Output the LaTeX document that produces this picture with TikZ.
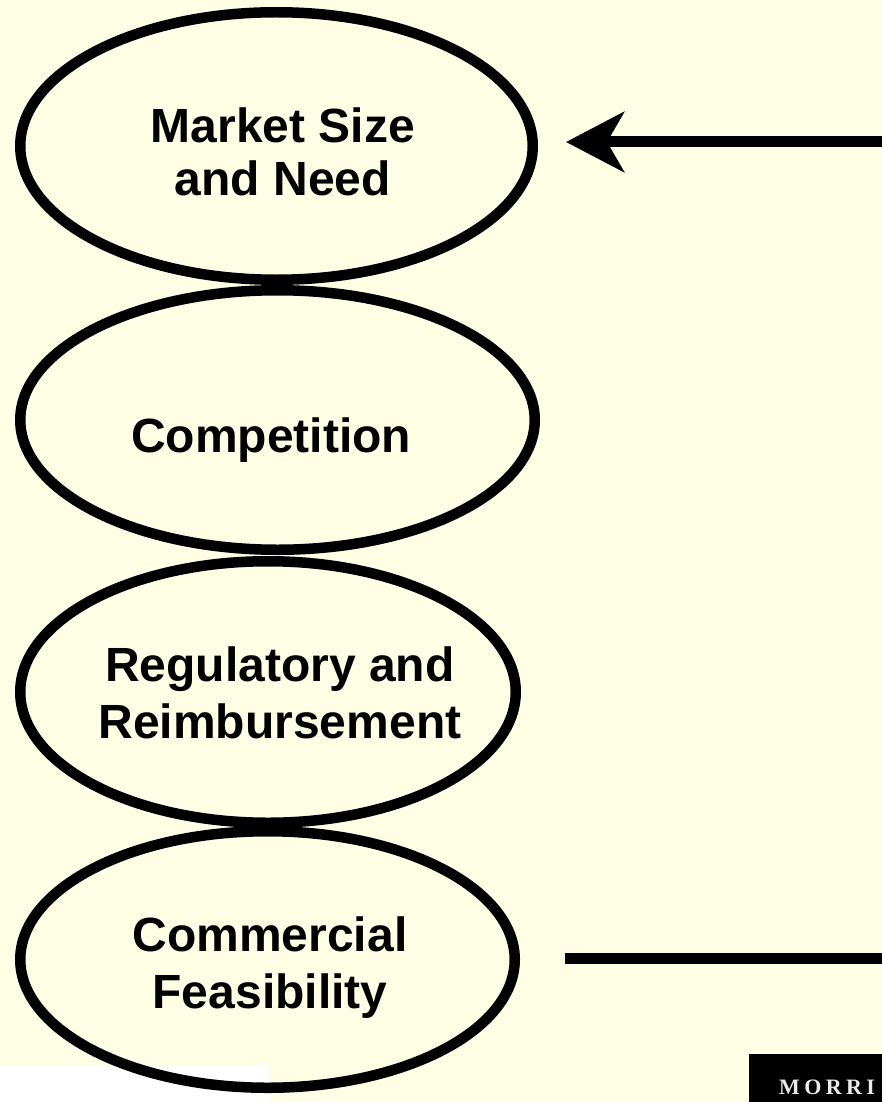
\documentclass[tikz,border=0pt]{standalone}
\usepackage{fontspec}
\setmainfont{Liberation Sans}
\newfontfamily\logofont{Liberation Serif}[LetterSpace=20]
\usetikzlibrary{shapes.geometric,arrows.meta}
\definecolor{paper}{RGB}{255,255,230}
\definecolor{logotext}{RGB}{235,235,235}
\begin{document}
\begin{tikzpicture}[x=1pt,y=-1pt,
  oval/.style={draw=black, line width=10.5pt, ellipse, inner sep=0pt, outer sep=0pt},
  lbl/.style={font=\fontsize{48}{56}\selectfont\bfseries, anchor=base, inner sep=0pt},
  ray/.style={line width=11pt, draw=black}]
\useasboundingbox (0,0) rectangle (882,1102);
\begin{scope}
\clip (0,0) rectangle (882,1102);
\fill[paper] (0,0) rectangle (882,1102);
\fill[white] (0,1066) rectangle (269,1102);
% ovals
\node[oval, minimum width=512.5pt, minimum height=267.5pt] (e1) at (276.5,146) {};
\node[oval, minimum width=514.5pt, minimum height=259.5pt] (e2) at (277.5,420) {};
\node[oval, minimum width=495.5pt, minimum height=261.5pt] (e3) at (268,692) {};
\node[oval, minimum width=494.5pt, minimum height=256.5pt] (e4) at (267.5,959.5) {};
% labels
\node[lbl] (t1a) at (283,143) {Market Size};
\node[lbl] (t1b) at (283,196) {and Need};
\node[lbl] (t2) at (271,452) {Competition};
\node[lbl] (t3a) at (280,681) {Regulatory and};
\node[lbl] (t3b) at (280,738) {Reimbursement};
\node[lbl] (t4a) at (270,951) {Commercial};
\node[lbl] (t4b) at (270,1008) {Feasibility};
% connectors
\coordinate (aS) at (882,142);
\coordinate (aT) at (566,142);
\draw[ray, -{Stealth[length=58pt,width=60pt,inset=17pt]}] (aS) -- (aT);
\coordinate (bS) at (565,958);
\coordinate (bE) at (882,958);
\draw[ray] (bS) -- (bE);
% logo strip
\fill[black] (749,1054) rectangle (882,1102);
\node[anchor=base west, inner sep=0pt, text=logotext, font=\logofont\fontsize{22}{22}\selectfont\bfseries] (logo) at (779,1094) {MORRI};
\end{scope}
\end{tikzpicture}
\end{document}
